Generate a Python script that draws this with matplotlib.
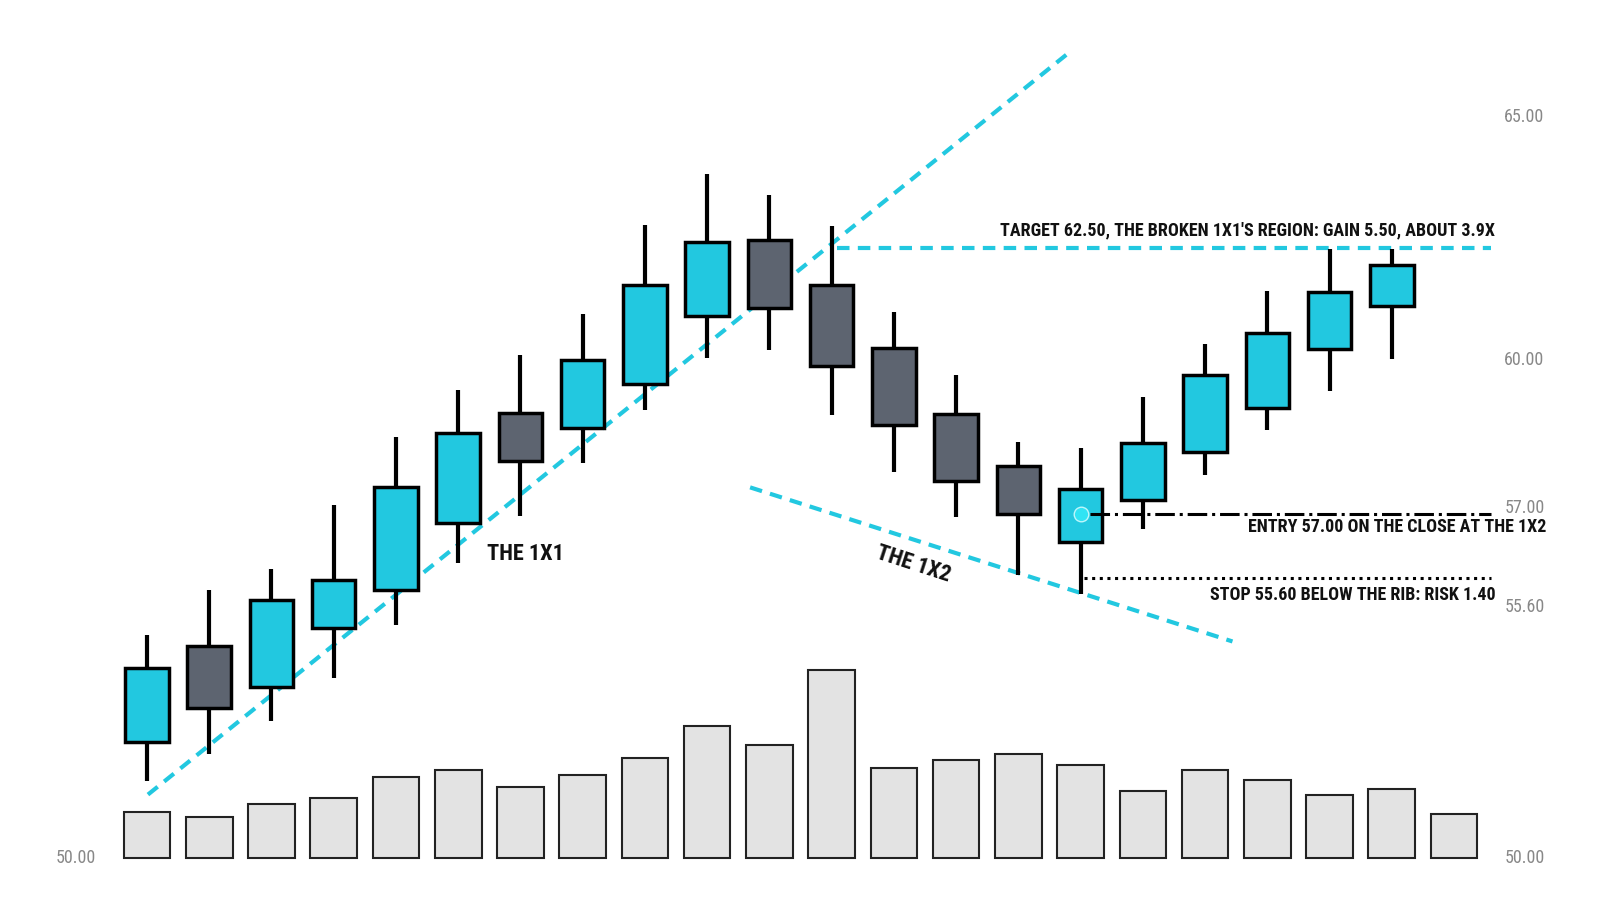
import matplotlib
matplotlib.use("Agg")
import matplotlib.pyplot as plt

opens  = [52.16,54.12,53.28,54.50,55.27,56.66,58.93,58.61,59.52,60.92,62.48,61.55,60.25,58.89,57.82,56.26,57.14,58.11,59.03,60.23,61.13]
closes = [53.68,52.86,55.08,55.48,57.39,58.51,57.94,60.02,61.55,62.44,61.07,59.89,58.68,57.52,56.85,57.35,58.30,59.71,60.57,61.41,61.97]
highs  = [54.35,55.27,55.71,57.02,58.42,59.39,60.11,60.95,62.79,63.84,63.40,62.77,60.99,59.71,58.32,58.21,59.24,60.34,61.43,62.29,62.29]
lows   = [51.34,51.91,52.58,53.47,54.56,55.84,56.81,57.90,58.99,60.06,60.21,58.87,57.71,56.79,55.59,55.19,56.53,57.65,58.57,59.37,60.04]
volume = [45,40,53,59,79,86,69,81,98,129,110,184,88,96,102,91,65,86,76,62,67,43]
axis_labels = ["65.00","60.00","57.00","55.60","50.00"]

CYAN = "#22c8e0"; GRAY = "#5d6470"
fam = ["Roboto Condensed", "Liberation Sans Narrow", "Roboto", "DejaVu Sans"]

W, H = 1568, 895  # reference display units
fig = plt.figure(figsize=(16, 9.14), dpi=100)
ax = fig.add_axes([0, 0, 1, 1])
ax.set_xlim(-144/61, (W-144)/61)
def py2v(py): return 60 - (py - 353) / 47.6
def px2x(px): return (px - 144) / 61
ax.set_ylim(py2v(H), py2v(0))
ax.axis("off")
vax = ax.twinx()
vax.set_ylim(840 - H, 840)
vax.axis("off")
vax.set_zorder(0); ax.set_zorder(1); ax.patch.set_visible(False)

vax.bar(range(len(volume)), volume, width=0.75, color="#e3e3e3", edgecolor="#222", linewidth=1.5)

for i, (o, c, h, l) in enumerate(zip(opens, closes, highs, lows)):
    col = CYAN if c >= o else GRAY
    ax.plot([i, i], [l, h], color="black", lw=3, zorder=2, solid_capstyle="butt")
    ax.bar(i, abs(c - o), bottom=min(o, c), width=0.7, color=col, edgecolor="black", linewidth=2.5, zorder=3)

ax.plot([0.016, 14.8], [51.07, 66.32], ls=(0, (3, 2)), color=CYAN, lw=3, zorder=1)
ax.plot([9.69, 17.44], [57.39, 54.22], ls=(0, (3, 2)), color=CYAN, lw=3, zorder=1)
ax.plot([11.08, 21.6], [62.31, 62.31], ls=(0, (3, 2)), color=CYAN, lw=3, zorder=1)
ax.plot([15.15, 21.6], [56.85, 56.85], ls="-.", color="black", lw=2.2, zorder=4)
ax.plot([15.05, 21.6], [55.53, 55.53], ls=(0, (1, 1.5)), color="black", lw=2.2, zorder=4)
ax.scatter([15.0], [56.85], s=110, color="#30e4f4", edgecolor="#bff6fb", linewidth=1, zorder=5)

tk = dict(family=fam, fontweight="bold", fontsize=13, color="#111")
big = dict(tk, fontsize=16)
ax.text(px2x(515), py2v(542), "THE 1X1", ha="center", va="center", **big)
ax.text(px2x(895), py2v(552), "THE 1X2", ha="center", va="center", rotation=-18, **big)
ax.text(px2x(1465), py2v(226), "TARGET 62.50, THE BROKEN 1X1'S REGION: GAIN 5.50, ABOUT 3.9X", ha="right", va="center", **tk)
ax.text(px2x(1515), py2v(516), "ENTRY 57.00 ON THE CLOSE AT THE 1X2", ha="right", va="center", **tk)
ax.text(px2x(1466), py2v(583), "STOP 55.60 BELOW THE RIB: RISK 1.40", ha="right", va="center", **tk)

lk = dict(family=fam, fontsize=13, color="#888", ha="center", va="center")
for lab, py in zip(axis_labels, [115, 353, 497, 594, 840]):
    ax.text(px2x(1494), py2v(py), lab, **lk)
ax.text(px2x(74), py2v(840), "50.00", **lk)

fig.savefig("out.png", dpi=100)
